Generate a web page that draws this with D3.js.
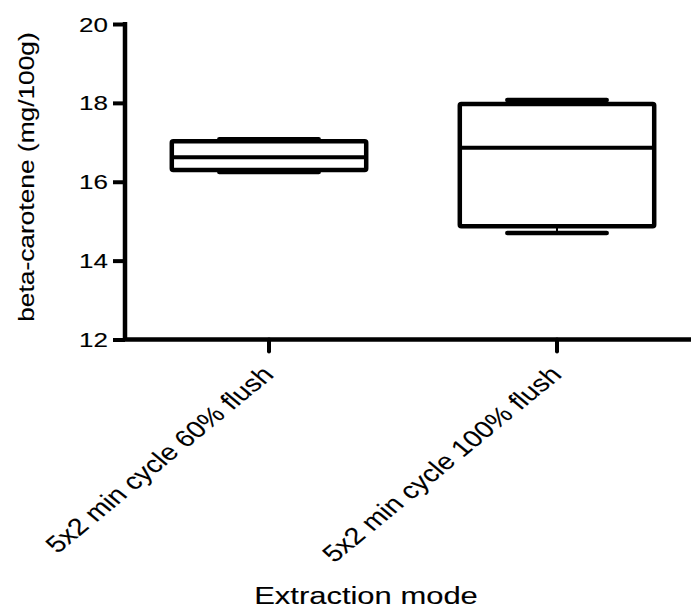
<!DOCTYPE html>
<html>
<head>
<meta charset="utf-8">
<script src="https://cdn.jsdelivr.net/npm/d3@7"></script>
<style>
  html, body { margin: 0; padding: 0; background: #fff; }
  svg { display: block; }
  text { font-family: "Liberation Sans", Arial, sans-serif; fill: #000; stroke: #000; stroke-width: 0.12px; }
</style>
</head>
<body>
<svg id="chart" width="691" height="608"></svg>
<script>
// ---- data ----
const categories = ["5x2 min cycle 60% flush", "5x2 min cycle 100% flush"];
const whiskerMin = [16.25, 14.70];
const q1Values   = [16.30, 14.87];
const medians    = [16.62, 16.86];
const q3Values   = [17.03, 17.97];
const whiskerMax = [17.08, 18.07];
const yTicks = [12, 14, 16, 18, 20];
const yTitle = "beta-carotene (mg/100g)";
const xTitle = "Extraction mode";

const boxes = categories.map((c, i) => ({
  cat: c, min: whiskerMin[i], q1: q1Values[i], med: medians[i], q3: q3Values[i], max: whiskerMax[i]
}));

// ---- layout ----
const svg = d3.select("#chart");
const x0 = 125, xEnd = 701, yTop = 24, yBot = 339.5;
const stretch = 1.3;

const x = d3.scaleBand().domain(categories).range([x0, xEnd]).paddingInner(0).paddingOuter(0);
const y = d3.scaleLinear().domain([12, 20]).range([yBot, yTop]);

const boxW = x.bandwidth() * 0.675;
const capW = x.bandwidth() * 0.345;
const lw = 4.5;

// ---- axes ----
const yAxis = d3.axisLeft(y).tickValues(yTicks).tickSize(12).tickSizeOuter(0).tickFormat(d3.format("d"));
const gy = svg.append("g").attr("transform", `translate(${x0},0)`).call(yAxis);
gy.select(".domain").attr("stroke", "#000").attr("stroke-width", lw)
  .attr("d", `M0,${yTop - 2}V${yBot}`);
gy.selectAll(".tick line").attr("stroke", "#000").attr("stroke-width", 4);
gy.selectAll(".tick text")
  .attr("x", null).attr("dy", null)
  .attr("text-anchor", "end")
  .attr("transform", `translate(-17,7) scale(${stretch},1)`)
  .style("font-size", "20px")
  .style("font-family", '"Liberation Sans", Arial, sans-serif');

const xAxis = d3.axisBottom(x).tickSize(12).tickSizeOuter(0).tickFormat("");
const gx = svg.append("g").attr("transform", `translate(0,${yBot})`).call(xAxis);
gx.select(".domain").attr("stroke", "#000").attr("stroke-width", lw)
  .attr("d", `M${x0 - 2},0H${xEnd}`);
gx.selectAll(".tick line").attr("stroke", "#000").attr("stroke-width", 4)
  .attr("stroke-linecap", "round");

// rotated category labels (rotated 45°, then stretched horizontally like the reference)
svg.append("g").selectAll("text").data(categories).join("text")
  .attr("text-anchor", "end")
  .attr("transform", d => `translate(${x(d) + x.bandwidth() / 2 + 6},376) scale(1.22,1) rotate(-45)`)
  .style("font-size", "23.5px")
  .text(d => d);

// ---- boxes ----
const g = svg.append("g").attr("fill", "none").attr("stroke", "#000");
boxes.forEach(b => {
  const cx = x(b.cat) + x.bandwidth() / 2;
  // whiskers
  g.append("line").attr("x1", cx).attr("x2", cx).attr("y1", y(b.q3)).attr("y2", y(b.max)).attr("stroke-width", 2);
  g.append("line").attr("x1", cx).attr("x2", cx).attr("y1", y(b.q1)).attr("y2", y(b.min)).attr("stroke-width", 2);
  // caps
  [b.max, b.min].forEach(v => {
    g.append("line").attr("x1", cx - capW / 2).attr("x2", cx + capW / 2)
      .attr("y1", y(v)).attr("y2", y(v)).attr("stroke-width", 4.5).attr("stroke-linecap", "round");
  });
  // box
  g.append("rect").attr("x", cx - boxW / 2).attr("width", boxW)
    .attr("y", y(b.q3)).attr("height", y(b.q1) - y(b.q3))
    .attr("fill", "#fff").attr("stroke-width", 4.5).attr("rx", 1.5);
  // median
  g.append("line").attr("x1", cx - boxW / 2).attr("x2", cx + boxW / 2)
    .attr("y1", y(b.med)).attr("y2", y(b.med)).attr("stroke-width", 4);
});

// ---- titles ----
svg.append("text")
  .attr("text-anchor", "middle")
  .attr("transform", `translate(34,177) rotate(-90) scale(1.17,1)`)
  .style("font-size", "22.5px")
  .text(yTitle);

svg.append("text")
  .attr("text-anchor", "middle")
  .attr("transform", `translate(366,604) scale(1.29,1)`)
  .style("font-size", "24px")
  .text(xTitle);
</script>
</body>
</html>
